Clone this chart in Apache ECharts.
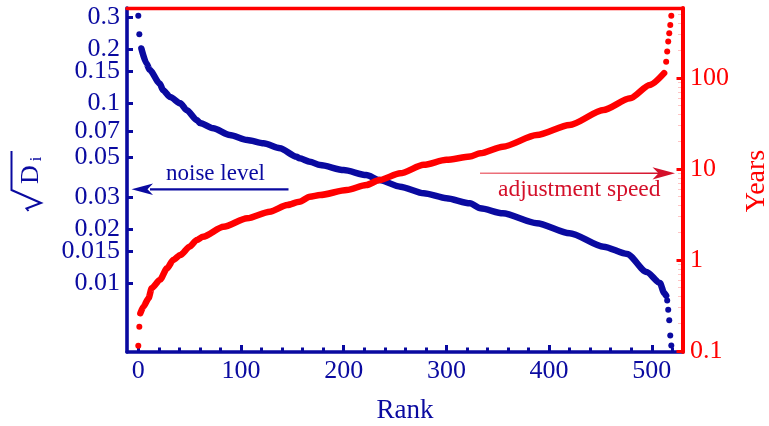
<!DOCTYPE html>
<html>
<head>
<meta charset="utf-8">
<script src="https://cdn.jsdelivr.net/npm/echarts@6/dist/echarts.min.js"></script>
<style>
  html, body { margin: 0; padding: 0; background: #ffffff; }
  #chart { width: 769px; height: 426px; }
</style>
</head>
<body>
<div id="chart"></div>
<script>
// ---- Rank axis ----
const rankTicks = [0, 100, 200, 300, 400, 500];
const rankMinorTicks = [0, 20, 40, 60, 80, 100, 120, 140, 160, 180, 200, 220, 240, 260, 280,
  300, 320, 340, 360, 380, 400, 420, 440, 460, 480, 500, 520];

// ---- Noise level sqrt(D_i), ranked ----
const noiseHeadRank = [0, 1];
const noiseHead = [0.305, 0.241];
const noiseRank = [3, 8, 11, 21, 24, 31, 41, 47, 57, 60, 73, 89, 106, 122, 138, 154, 157, 167,
  177, 200, 222, 235, 255, 278, 300, 323, 333, 355, 388, 420, 453, 476, 495, 508, 512, 514];
const noiseLevel = [0.201, 0.166, 0.153, 0.128, 0.118, 0.108, 0.0996, 0.0914, 0.0804, 0.0774,
  0.0723, 0.0664, 0.0623, 0.0597, 0.0560, 0.0503, 0.0493, 0.0472, 0.0452, 0.0424, 0.0398,
  0.0373, 0.0343, 0.0315, 0.0296, 0.0277, 0.0260, 0.0244, 0.0215, 0.0189, 0.0159, 0.0145,
  0.0115, 0.0100, 0.0088, 0.0085];
const noiseTailRank = [515, 516, 517, 518, 519];
const noiseTail = [0.0080, 0.0071, 0.0062, 0.0051, 0.0045];
const noiseTicks = [0.01, 0.015, 0.02, 0.03, 0.05, 0.07, 0.1, 0.15, 0.2, 0.3];

// ---- Adjustment time in years, ranked ----
const speedHeadRank = [0, 1];
const speedHead = [0.114, 0.185];
const speedRank = [2, 5, 10, 13, 21, 28, 34, 41, 50, 57, 63, 83, 106, 128, 145, 157, 167, 177,
  203, 222, 235, 255, 278, 300, 323, 333, 355, 388, 420, 453, 479, 498, 512];
const speedYears = [0.26, 0.307, 0.38, 0.489, 0.603, 0.81, 1.0, 1.135, 1.40, 1.66, 1.80, 2.32,
  2.87, 3.40, 4.02, 4.37, 4.96, 5.18, 5.88, 6.67, 7.57, 8.97, 11.1, 12.6, 13.7, 14.9, 17.6,
  23.6, 30.5, 44.5, 59.8, 83.8, 113];
const speedTailRank = [514, 515, 516, 517, 518, 519];
const speedTail = [151, 195, 251, 310, 382, 484];
const yearTicks = [0.1, 1, 10, 100];
const yearMinorTicks = [0.2, 0.3, 0.4, 0.5, 0.6, 0.7, 0.8, 0.9, 2, 3, 4, 5, 6, 7, 8, 9,
  20, 30, 40, 50, 60, 70, 80, 90, 200, 300, 400, 500];

// ---- Styling ----
const BLUE = '#0a0aa0';
const RED = '#ff0000';
const ARROW_RED = '#d4102a';
const FONT = '"Liberation Serif", "Times New Roman", serif';

const rankRange = [-11, 530.4];
const noiseRange = [0.004136, 0.3372];
const yearRange = [0.0975, 587.5];

const pairs = (xs, ys) => xs.map((x, i) => [x, ys[i]]);
const lg = v => Math.log10(v);
const tickText = v => String(Number(Math.pow(10, v).toPrecision(3)));

const chart = echarts.init(document.getElementById('chart'), null, { renderer: 'canvas' });

const hidden = {
  axisLine: { show: false }, axisTick: { show: false },
  axisLabel: { show: false }, splitLine: { show: false }
};

chart.setOption({
  animation: false,
  backgroundColor: '#ffffff',
  grid: { left: 127, right: 86, top: 8, bottom: 74, containLabel: false },
  xAxis: [
    { // rank scale with minor ticks and labels
      type: 'value', position: 'bottom', min: rankRange[0], max: rankRange[1], z: 0,
      axisLine: { show: true, onZero: false, lineStyle: { color: BLUE, width: 3.5 } },
      axisTick: { show: true, inside: true, length: 4.5, customValues: rankMinorTicks,
        lineStyle: { color: BLUE, width: 3 } },
      axisLabel: { show: true, customValues: rankTicks, margin: 6, color: BLUE,
        fontFamily: FONT, fontSize: 26 },
      splitLine: { show: false }
    },
    { // major rank ticks
      type: 'value', position: 'bottom', min: rankRange[0], max: rankRange[1], z: 0,
      axisLine: { show: false, onZero: false },
      axisTick: { show: true, inside: true, length: 7, customValues: rankTicks,
        lineStyle: { color: BLUE, width: 3 } },
      axisLabel: { show: false }, splitLine: { show: false }
    },
    { // frame top edge
      type: 'value', position: 'top', min: rankRange[0], max: rankRange[1], z: 1,
      axisLine: { show: true, onZero: false, lineStyle: { color: RED, width: 3.4 } },
      axisTick: { show: false }, axisLabel: { show: false }, splitLine: { show: false }
    }
  ],
  yAxis: [
    // data scales
    Object.assign({ type: 'log', logBase: 10, position: 'left', min: noiseRange[0], max: noiseRange[1] }, hidden),
    Object.assign({ type: 'log', logBase: 10, position: 'right', min: yearRange[0], max: yearRange[1] }, hidden),
    { // sqrt(D_i) ticks and labels
      type: 'value', position: 'left', min: lg(noiseRange[0]), max: lg(noiseRange[1]), z: 0,
      axisLine: { show: true, onZero: false, lineStyle: { color: BLUE, width: 3.6 } },
      axisTick: { show: true, inside: true, length: 6, customValues: noiseTicks.map(lg),
        lineStyle: { color: BLUE, width: 3 } },
      axisLabel: { show: true, customValues: noiseTicks.map(lg), formatter: tickText,
        margin: 7, color: BLUE, fontFamily: FONT, fontSize: 26 },
      splitLine: { show: false }
    },
    { // years ticks and labels
      type: 'value', position: 'right', min: lg(yearRange[0]), max: lg(yearRange[1]), z: 1,
      axisLine: { show: true, onZero: false, lineStyle: { color: RED, width: 4 } },
      axisTick: { show: true, inside: true, length: 6.5, customValues: yearTicks.map(lg),
        lineStyle: { color: RED, width: 3 } },
      axisLabel: { show: true, customValues: yearTicks.map(lg), formatter: tickText,
        margin: 7, color: RED, fontFamily: FONT, fontSize: 26 },
      splitLine: { show: false }
    },
    { // faint minor year ticks
      type: 'value', position: 'right', min: lg(yearRange[0]), max: lg(yearRange[1]), z: 0,
      axisLine: { show: false, onZero: false },
      axisTick: { show: true, inside: true, length: 5, customValues: yearMinorTicks.map(lg),
        lineStyle: { color: '#ffc4c4', width: 1 } },
      axisLabel: { show: false }, splitLine: { show: false }
    }
  ],
  series: [
    {
      name: 'noise level', type: 'line', xAxisIndex: 0, yAxisIndex: 0,
      data: pairs(noiseRank, noiseLevel), showSymbol: false, symbol: 'none',
      smooth: 0.25, smoothMonotone: 'x',
      lineStyle: { color: BLUE, width: 6.5, cap: 'round', join: 'round' }, z: 3
    },
    {
      name: 'noise level ends', type: 'scatter', xAxisIndex: 0, yAxisIndex: 0,
      data: pairs(noiseHeadRank, noiseHead).concat(pairs(noiseTailRank, noiseTail)),
      symbolSize: 6, itemStyle: { color: BLUE, opacity: 1 }, z: 3
    },
    {
      name: 'adjustment speed', type: 'line', xAxisIndex: 0, yAxisIndex: 1,
      data: pairs(speedRank, speedYears), showSymbol: false, symbol: 'none',
      smooth: 0.25, smoothMonotone: 'x',
      lineStyle: { color: RED, width: 6.5, cap: 'round', join: 'round' }, z: 4
    },
    {
      name: 'adjustment speed ends', type: 'scatter', xAxisIndex: 0, yAxisIndex: 1,
      data: pairs(speedHeadRank, speedHead).concat(pairs(speedTailRank, speedTail)),
      symbolSize: 6, itemStyle: { color: RED, opacity: 1 }, z: 4
    }
  ],
  graphic: [
    // annotations
    { type: 'text', x: 166, y: 173.5, z: 10,
      style: { text: 'noise level', font: '23px ' + FONT, fill: BLUE, textVerticalAlign: 'middle' } },
    { type: 'line', z: 10,
      shape: { x1: 150, y1: 189.3, x2: 288.5, y2: 189.3 },
      style: { stroke: BLUE, lineWidth: 2.3 } },
    { type: 'polygon', z: 10,
      shape: { points: [[131.5, 189.3], [153, 183.6], [147.5, 189.3], [153, 195]] },
      style: { fill: BLUE } },
    { type: 'text', x: 498, y: 190, z: 10,
      style: { text: 'adjustment speed', font: '23.5px ' + FONT, fill: ARROW_RED, textVerticalAlign: 'middle' } },
    { type: 'line', z: 10,
      shape: { x1: 480, y1: 173.3, x2: 660, y2: 173.3 },
      style: {
        lineWidth: 1.6,
        stroke: new echarts.graphic.LinearGradient(0, 0, 1, 0, [
          { offset: 0, color: '#ee7a82' }, { offset: 1, color: ARROW_RED }
        ], false)
      } },
    { type: 'polygon', z: 10,
      shape: { points: [[675, 173.3], [652.5, 167.2], [658.5, 173.3], [652.5, 179.4]] },
      style: { fill: ARROW_RED } },
    // axis titles
    { type: 'text', x: 405, y: 411, z: 10,
      style: { text: 'Rank', font: '27px ' + FONT, fill: BLUE, textAlign: 'center', textVerticalAlign: 'middle' } },
    { type: 'text', x: 757, y: 181, rotation: Math.PI / 2, z: 10,
      style: { text: 'Years', font: '28px ' + FONT, fill: RED, textAlign: 'center', textVerticalAlign: 'middle' } },
    // sqrt(D_i) title, written bottom to top
    { type: 'polyline', z: 10,
      shape: { points: [[28.5, 211], [26.5, 208.5], [41, 203], [11.5, 190], [11.5, 151]] },
      style: { stroke: BLUE, lineWidth: 2, fill: null, lineJoin: 'miter' } },
    { type: 'text', x: 31, y: 174.5, rotation: Math.PI / 2, z: 10,
      style: { text: 'D', font: '26px ' + FONT, fill: BLUE, textAlign: 'center', textVerticalAlign: 'middle' } },
    { type: 'text', x: 37, y: 159, rotation: Math.PI / 2, z: 10,
      style: { text: 'i', font: '16px ' + FONT, fill: BLUE, textAlign: 'center', textVerticalAlign: 'middle' } }
  ]
});
</script>
</body>
</html>
